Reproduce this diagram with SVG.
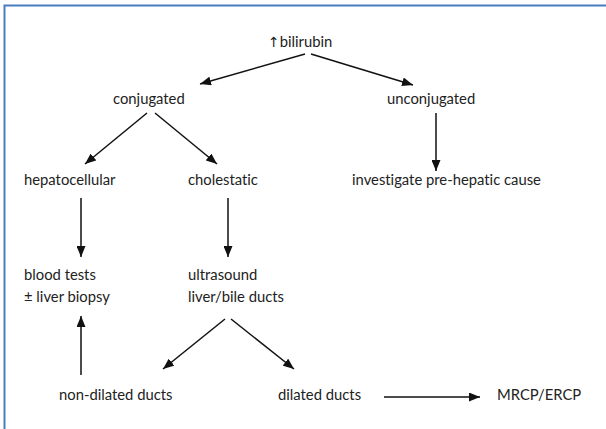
<svg xmlns="http://www.w3.org/2000/svg" width="606" height="429" viewBox="0 0 606 429">
<style>
.t{font-family:Lato,"Open Sans","Liberation Sans",sans-serif;font-size:14.8px;fill:#222;font-variant-ligatures:none;font-feature-settings:"liga" 0,"dlig" 0}
.c{stroke:#111;stroke-width:1.5;fill:none;marker-end:url(#ah)}
.ar{font-family:"DejaVu Sans",sans-serif;font-size:14px}
</style>
<defs>
<marker id="ah" markerUnits="userSpaceOnUse" markerWidth="11" markerHeight="9" refX="11" refY="4.5" orient="auto">
<path d="M0,0 L11,4.5 L0,9 z" fill="#111"/>
</marker>
</defs>
<rect width="606" height="429" fill="#fff"/>
<g id="frame" stroke="#4a7dbf" stroke-width="2" fill="none">
<path d="M4.5,429 V5.5 H606"/>
</g>
<g id="connectors">
<line class="c" x1="305" y1="54" x2="200" y2="84"/>
<line class="c" x1="311" y1="54" x2="413" y2="85"/>
<line class="c" x1="147" y1="113" x2="85" y2="164"/>
<line class="c" x1="155" y1="113" x2="217" y2="164"/>
<line class="c" x1="436" y1="113" x2="436" y2="171"/>
<line class="c" x1="81" y1="198" x2="81" y2="257"/>
<line class="c" x1="228" y1="198" x2="228" y2="257"/>
<line class="c" x1="225" y1="319" x2="163" y2="369"/>
<line class="c" x1="231" y1="319" x2="294" y2="369"/>
<line class="c" x1="81" y1="375" x2="81" y2="316"/>
<line class="c" x1="384" y1="397" x2="480" y2="397"/>
</g>
<g id="n-bilirubin"><text class="t" x="268" y="47"><tspan class="ar">↑</tspan>bilirubin</text></g>
<g id="n-conjugated"><text class="t" x="113" y="104">conjugated</text></g>
<g id="n-unconjugated"><text class="t" x="387" y="104">unconjugated</text></g>
<g id="n-hepatocellular"><text class="t" x="24" y="185">hepatocellular</text></g>
<g id="n-cholestatic"><text class="t" x="188" y="185">cholestatic</text></g>
<g id="n-prehepatic"><text class="t" x="352" y="185">investigate pre-hepatic cause</text></g>
<g id="n-blood"><text class="t" x="24" y="280">blood tests</text><text class="t" x="24" y="302">± liver biopsy</text></g>
<g id="n-ultrasound"><text class="t" x="188" y="280">ultrasound</text><text class="t" x="188" y="302">liver/bile ducts</text></g>
<g id="n-nondilated"><text class="t" x="59" y="400">non-dilated ducts</text></g>
<g id="n-dilated"><text class="t" x="278" y="400">dilated ducts</text></g>
<g id="n-mrcp"><text class="t" x="497" y="400">MRCP/ERCP</text></g>
</svg>
